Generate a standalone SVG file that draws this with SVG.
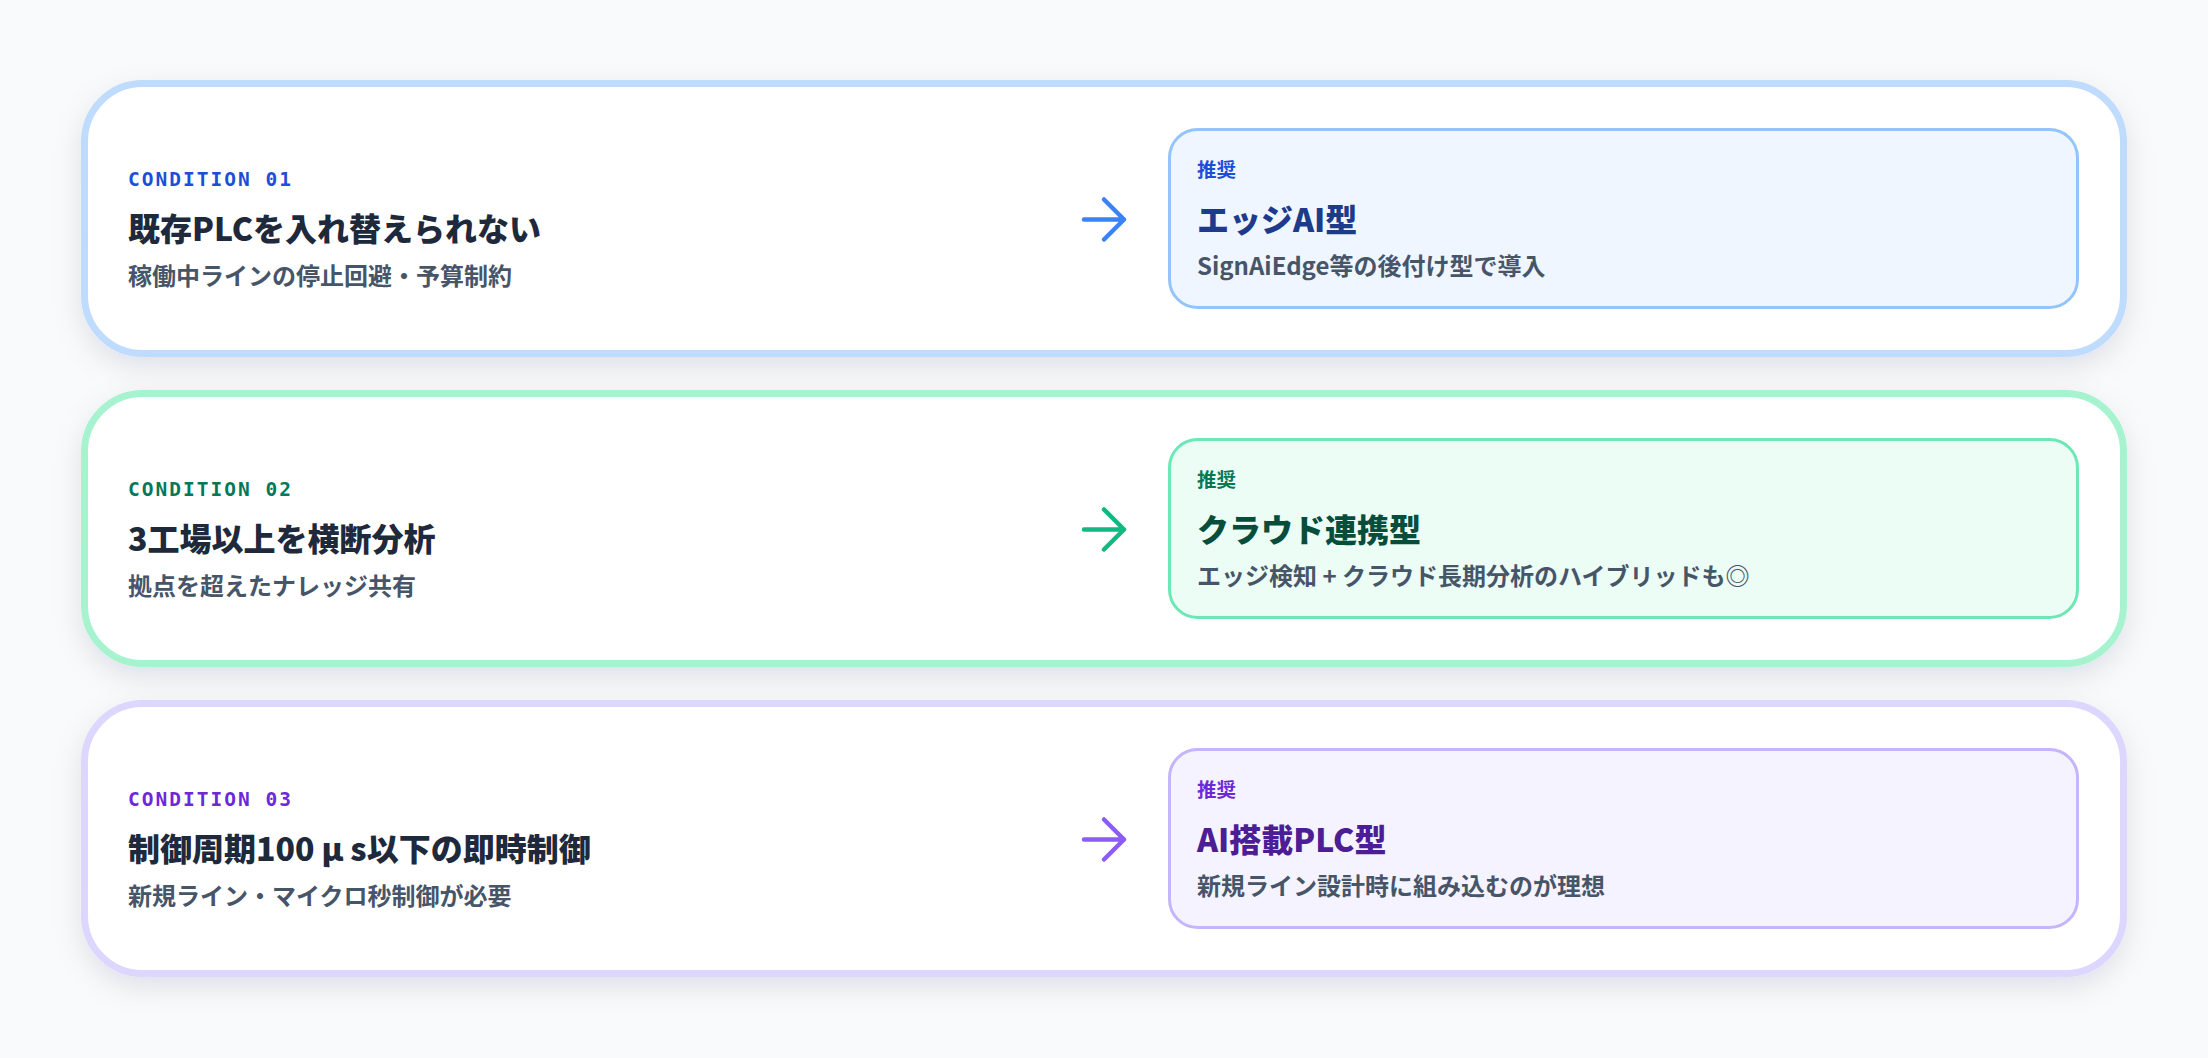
<svg xmlns="http://www.w3.org/2000/svg" width="2208" height="1058" viewBox="0 0 2208 1058">
<defs>
<filter id="shadow" x="-5%" y="-20%" width="110%" height="150%">
<feDropShadow dx="0" dy="10" stdDeviation="14" flood-color="#0f172a" flood-opacity="0.10"/>
</filter>
<style>
.card{fill:#ffffff;stroke-width:7;filter:url(#shadow)}
.inner{stroke-width:3}
.cond{font-family:"DejaVu Sans Mono","Liberation Mono",monospace;font-weight:700;font-size:19.5px;letter-spacing:2px}
.jp{font-family:"Noto Sans CJK JP","Noto Sans",sans-serif;font-weight:700}
.title{font-size:32px;fill:#1e293b;font-weight:900}
.sub{font-size:24px;fill:#475569}
.rec{font-size:19.5px}
.rtitle{font-size:32px;font-weight:900}
.desc{font-size:24px;fill:#475569}
.arrow{fill:none;stroke-width:4.5;stroke-linecap:round;stroke-linejoin:round}
.blue .card{stroke:#bfdbfe}.blue .inner{fill:#eff6ff;stroke:#93c5fd}.blue .acc{fill:#1d4ed8}.blue .rtitle{fill:#1e3a8a}
.green .card{stroke:#a7f3d0}.green .inner{fill:#ecfdf5;stroke:#6ee7b7}.green .acc{fill:#047857}.green .rtitle{fill:#064e3b}
.purple .card{stroke:#ddd6fe}.purple .inner{fill:#f5f3ff;stroke:#c4b5fd}.purple .acc{fill:#6d28d9}.purple .rtitle{fill:#4c1d95}
</style>
</defs>
<rect width="2208" height="1058" fill="#f8fafc"/>

<g id="row1" class="blue">
<g id="condition1">
<rect class="card" x="84.5" y="83.5" width="2039" height="270" rx="58"/>
<text class="cond acc" x="128" y="186">CONDITION 01</text>
<text class="jp title" x="128" y="241">既存PLCを入れ替えられない</text>
<text class="jp sub" x="128" y="285">稼働中ラインの停止回避・予算制約</text>
</g>
<g id="recommend1">
<rect class="inner" x="1169.5" y="129.5" width="908" height="178" rx="28"/>
<text class="jp rec acc" x="1197" y="177">推奨</text>
<text class="jp rtitle" x="1197" y="232">エッジAI型</text>
<text class="jp desc" x="1197" y="275">SignAiEdge等の後付け型で導入</text>
</g>
</g>

<g id="row2" class="green">
<g id="condition2">
<rect class="card" x="84.5" y="393.5" width="2039" height="270" rx="58"/>
<text class="cond acc" x="128" y="496">CONDITION 02</text>
<text class="jp title" x="128" y="551">3工場以上を横断分析</text>
<text class="jp sub" x="128" y="595">拠点を超えたナレッジ共有</text>
</g>
<g id="recommend2">
<rect class="inner" x="1169.5" y="439.5" width="908" height="178" rx="28"/>
<text class="jp rec acc" x="1197" y="487">推奨</text>
<text class="jp rtitle" x="1197" y="542">クラウド連携型</text>
<text class="jp desc" x="1197" y="585">エッジ検知 + クラウド長期分析のハイブリッドも◎</text>
</g>
</g>

<g id="row3" class="purple">
<g id="condition3">
<rect class="card" x="84.5" y="703.5" width="2039" height="270" rx="58"/>
<text class="cond acc" x="128" y="806">CONDITION 03</text>
<text class="jp title" x="128" y="861">制御周期100<tspan dx="7">μ</tspan><tspan dx="7">s以下の即時制御</tspan></text>
<text class="jp sub" x="128" y="905">新規ライン・マイクロ秒制御が必要</text>
</g>
<g id="recommend3">
<rect class="inner" x="1169.5" y="749.5" width="908" height="178" rx="28"/>
<text class="jp rec acc" x="1197" y="797">推奨</text>
<text class="jp rtitle" x="1197" y="852">AI搭載PLC型</text>
<text class="jp desc" x="1197" y="895">新規ライン設計時に組み込むのが理想</text>
</g>
</g>

<g id="connectors">
<path class="arrow" stroke="#3b82f6" d="M1084 219.5 H1124 M1104 199.5 L1124 219.5 L1104 239.5"/>
<path class="arrow" stroke="#10b981" d="M1084 529.5 H1124 M1104 509.5 L1124 529.5 L1104 549.5"/>
<path class="arrow" stroke="#8b5cf6" d="M1084 839.5 H1124 M1104 819.5 L1124 839.5 L1104 859.5"/>
</g>
</svg>
